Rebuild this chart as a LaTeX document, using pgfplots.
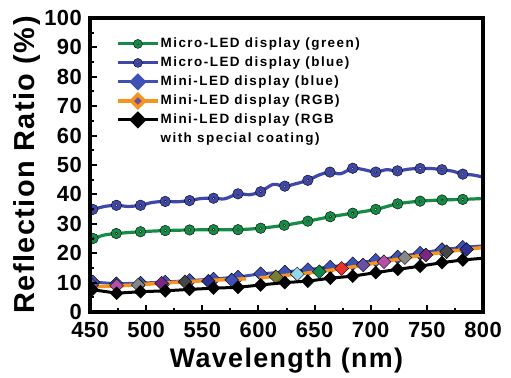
\documentclass[border=0pt]{standalone}
\usepackage{pgfplots}
\pgfplotsset{compat=1.18}
\usepackage{fontspec}
\setmainfont{Liberation Sans}
\newfontfamily\tickff[LetterSpace=2]{Liberation Sans}
\newfontfamily\labff[LetterSpace=5]{Liberation Sans}
\newfontfamily\legff[LetterSpace=11]{Liberation Sans}
\definecolor{cgreen}{RGB}{20,140,70}
\definecolor{cblue}{RGB}{63,72,170}
\definecolor{corange}{RGB}{247,148,30}
\definecolor{cviolet}{RGB}{105,80,165}
\definecolor{cpink}{RGB}{180,80,165}
\definecolor{cgray}{RGB}{135,135,135}
\definecolor{cdpurple}{RGB}{120,40,130}
\definecolor{cdgray}{RGB}{70,70,70}
\definecolor{cnavy}{RGB}{45,50,145}
\definecolor{cmblue}{RGB}{63,81,181}
\definecolor{colive}{RGB}{120,125,50}
\definecolor{clblue}{RGB}{150,215,230}
\definecolor{cdgreen}{RGB}{15,135,75}
\definecolor{cred}{RGB}{235,50,40}
\pgfplotsset{
  dia/.style={only marks, mark=square*, mark size=4.9bp, mark options={rotate=45, draw=none, fill=#1}, forget plot},
}
\begin{document}
\begin{tikzpicture}
\begin{axis}[
  scale only axis, width=393bp, height=294bp,
  xmin=450, xmax=800, ymin=0, ymax=100,
  xtick={450,500,...,800}, ytick={0,10,...,100},
  minor x tick num=1, minor y tick num=1,
  tick align=inside, xtick pos=left, ytick pos=left,
  major tick length=7bp, minor tick length=4bp,
  every tick/.style={black, line width=2bp},
  axis line style={line width=3.5bp},
  axis on top, clip marker paths=true,
  /pgf/number format/assume math mode=true,
  tick label style={font=\tickff\bfseries\fontsize{22}{24}\selectfont, inner sep=0bp},
  xticklabel style={yshift=-10bp},
  yticklabel style={xshift=-8bp},
  xlabel={Wavelength (nm)}, ylabel={Reflection Ratio (\%)},
  xlabel style={font=\labff\bfseries\fontsize{27}{30}\selectfont, at={(axis description cs:0.5,0)}, anchor=base, yshift=-55bp},
  ylabel style={font=\labff\bfseries\fontsize{29}{32}\selectfont, at={(axis description cs:0,0.5)}, anchor=center, yshift=63bp},
  legend style={at={(rel axis cs:0.066,0.938)}, anchor=north west, draw=none, fill=none,
    font=\legff\bfseries\fontsize{13.5}{15}\selectfont, inner sep=0bp, row sep=4bp,
    nodes={inner sep=1bp, text height=10bp, text depth=3bp}},
  legend cell align=left,
  legend image code/.code={\draw[mark repeat=2,mark phase=2,#1] plot coordinates {(0bp,0bp) (20bp,0bp) (40bp,0bp)};},
]
% Mini-LED display (blue)
\addplot[cmblue, line width=3bp, forget plot] coordinates {
(450,10.2) (452.5,10.2) (473.5,9.6) (495,9.8) (517,10.2) (538.7,10.7) (560,11.2) (581.8,11.9) (602,13.0) (623.5,13.6) (644,14.4) (664,15.3) (684,16.4) (704.5,17.6) (724,18.7) (744,20.0) (763.5,21.2) (782,22.0) (800,22.5)};
\addplot[dia=cmblue] coordinates {
(452.5,10.2) (473.5,9.6) (495,9.8) (517,10.2) (538.7,10.7) (560,11.2) (581.8,11.9) (602,13.0) (623.5,13.6) (644,14.4) (664,15.3) (684,16.4) (704.5,17.6) (724,18.7) (744,20.0) (763.5,21.2) (782,22.0)};
% Mini-LED display (RGB)
\addplot[corange, line width=3.5bp, forget plot] coordinates {
(450,8.6) (470,8.8) (490,9.2) (510,9.7) (530,10.2) (550,10.6) (570,11.0) (589,11.3)};
\addplot[corange, line width=3.5bp, forget plot] coordinates {
(601,11.6) (620,12.3) (640,13.1) (660,14.0) (680,15.1) (700,16.4) (720,17.7) (740,19.0) (760,20.1) (780,21.1) (800,21.9)};
\addplot[dia=cviolet] coordinates {(451.5,9.2) (693.3,16.0)};
\addplot[dia=cpink] coordinates {(473.7,8.9) (711.8,17.1)};
\addplot[dia=cgray] coordinates {(493,9.2) (730.4,18.5)};
\addplot[dia=cdpurple] coordinates {(513.8,9.8) (749.2,19.4)};
\addplot[dia=cdgray] coordinates {(534.6,10.3) (767.6,20.5)};
\addplot[dia=cnavy] coordinates {(555.4,10.5) (785.4,21.3)};
\addplot[dia=cmblue] coordinates {(576.2,10.9)};
\addplot[dia=colive] coordinates {(615.6,12.0)};
\addplot[dia=clblue] coordinates {(634.6,12.9)};
\addplot[dia=cdgreen] coordinates {(654.2,13.7)};
\addplot[dia=cred] coordinates {(674.1,14.8)};
% Mini-LED display (RGB with special coating)
\addplot[black, line width=3bp, forget plot] coordinates {
(450,7.6) (452,7.6) (473.7,6.4) (495,6.9) (517,7.2) (538.7,7.7) (560,8.1) (581.8,8.4) (602,9.2) (623.5,10.0) (644,10.5) (664,11.5) (684,12.2) (704.5,13.4) (724,14.5) (744,15.6) (763.5,16.8) (782,17.7) (800,18.3)};
\addplot[only marks, mark=square*, mark size=4.6bp, mark options={rotate=45, draw=none, fill=black}, forget plot] coordinates {
(452,7.6) (473.7,6.4) (495,6.9) (517,7.2) (538.7,7.7) (560,8.1) (581.8,8.4) (602,9.2) (623.5,10.0) (644,10.5) (664,11.5) (684,12.2) (704.5,13.4) (724,14.5) (744,15.6) (763.5,16.8) (782,17.7)};
% Micro-LED display (green)
\addplot[cgreen, line width=3.2bp, smooth, tension=0.5, forget plot] coordinates {
(450,24.8) (452.7,25.0) (463,26.2) (473.4,26.7) (495,27.3) (517,27.7) (538.7,27.9) (560,28.0) (581.8,28.0) (602,28.5) (623,29.5) (644,30.9) (664,32.4) (684,33.6) (704.5,34.9) (724,36.8) (744,37.7) (763.5,38.1) (782,38.3) (800,38.6)};
\addplot[only marks, mark=*, mark size=5.3bp, mark options={draw=none, fill=cgreen}, forget plot] coordinates {
(452.7,25.0) (473.4,26.7) (495,27.3) (517,27.7) (538.7,27.9) (560,28.0) (581.8,28.0) (602,28.5) (623,29.5) (644,30.9) (664,32.4) (684,33.6) (704.5,34.9) (724,36.8) (744,37.7) (763.5,38.1) (782,38.3)};
\addplot[only marks, mark=*, mark size=1.2bp, mark options={draw=none, fill=white}, forget plot] coordinates {
(452.7,25.0) (473.4,26.7) (495,27.3) (517,27.7) (538.7,27.9) (560,28.0) (581.8,28.0) (602,28.5) (623,29.5) (644,30.9) (664,32.4) (684,33.6) (704.5,34.9) (724,36.8) (744,37.7) (763.5,38.1) (782,38.3)};
% Micro-LED display (blue)
\addplot[cblue, line width=3.2bp, smooth, tension=0.5, forget plot] coordinates {
(450,35.0) (452.5,34.9) (463,35.9) (473.5,36.3) (484,35.9) (495,36.3) (506,37.3) (517,37.6) (528,37.5) (538.7,37.9) (549,38.6) (560,38.7) (570,38.5) (581.8,40.2) (592,39.9) (602,40.9) (613,43.4) (623.5,42.8) (633,43.6) (644,44.8) (654,46.6) (663.7,47.6) (673,47.0) (684,48.9) (694,48.4) (704.5,47.6) (714,48.4) (723.8,48.0) (734,48.6) (744,48.8) (754,48.8) (763.5,48.4) (773,47.9) (782,46.9) (791,46.6) (800,45.9)};
\addplot[only marks, mark=*, mark size=5.3bp, mark options={draw=none, fill=cblue}, forget plot] coordinates {
(452.5,34.9) (473.5,36.3) (495,36.3) (517,37.6) (538.7,37.9) (560,38.7) (581.8,40.2) (602,40.9) (623.5,42.8) (644,44.8) (663.7,47.6) (684,48.9) (704.5,47.6) (723.8,48.0) (744,48.8) (763.5,48.4) (782,46.9)};
\addplot[only marks, mark=*, mark size=1.2bp, mark options={draw=none, fill=white}, forget plot] coordinates {
(452.5,34.9) (473.5,36.3) (495,36.3) (517,37.6) (538.7,37.9) (560,38.7) (581.8,40.2) (602,40.9) (623.5,42.8) (644,44.8) (663.7,47.6) (684,48.9) (704.5,47.6) (723.8,48.0) (744,48.8) (763.5,48.4) (782,46.9)};
% legend
\addlegendimage{legend image code/.code={\draw[cgreen, line width=3bp] plot coordinates {(0bp,0bp) (40bp,0bp)}; \path plot[mark=*, mark size=4.5bp, mark options={draw=none, fill=cgreen}] coordinates {(20bp,0bp)}; \path plot[mark=*, mark size=1.1bp, mark options={draw=none, fill=white}] coordinates {(20bp,0bp)};}}
\addlegendentry{Micro-LED display (green)}
\addlegendimage{legend image code/.code={\draw[cblue, line width=3bp] plot coordinates {(0bp,0bp) (40bp,0bp)}; \path plot[mark=*, mark size=4.5bp, mark options={draw=none, fill=cblue}] coordinates {(20bp,0bp)}; \path plot[mark=*, mark size=1.1bp, mark options={draw=none, fill=white}] coordinates {(20bp,0bp)};}}
\addlegendentry{Micro-LED display (blue)}
\addlegendimage{cmblue, line width=3bp, mark=square*, mark size=4.6bp, mark options={rotate=45, draw=none, fill=cmblue}}
\addlegendentry{Mini-LED display (blue)}
\addlegendimage{corange, line width=3.5bp, mark=square*, mark size=4.6bp, mark options={rotate=45, draw=none, fill=cviolet}}
\addlegendentry{Mini-LED display (RGB)}
\addlegendimage{black, line width=3bp, mark=square*, mark size=4.6bp, mark options={rotate=45, draw=none, fill=black}}
\addlegendentry{Mini-LED display (RGB}
\addlegendimage{empty legend}
\addlegendentry{with special coating)}
\end{axis}
\pgfresetboundingbox
\path[use as bounding box] ([shift={(-90bp,-66bp)}]current axis.south west) rectangle ([shift={(28bp,18bp)}]current axis.north east);
\end{tikzpicture}
\end{document}
